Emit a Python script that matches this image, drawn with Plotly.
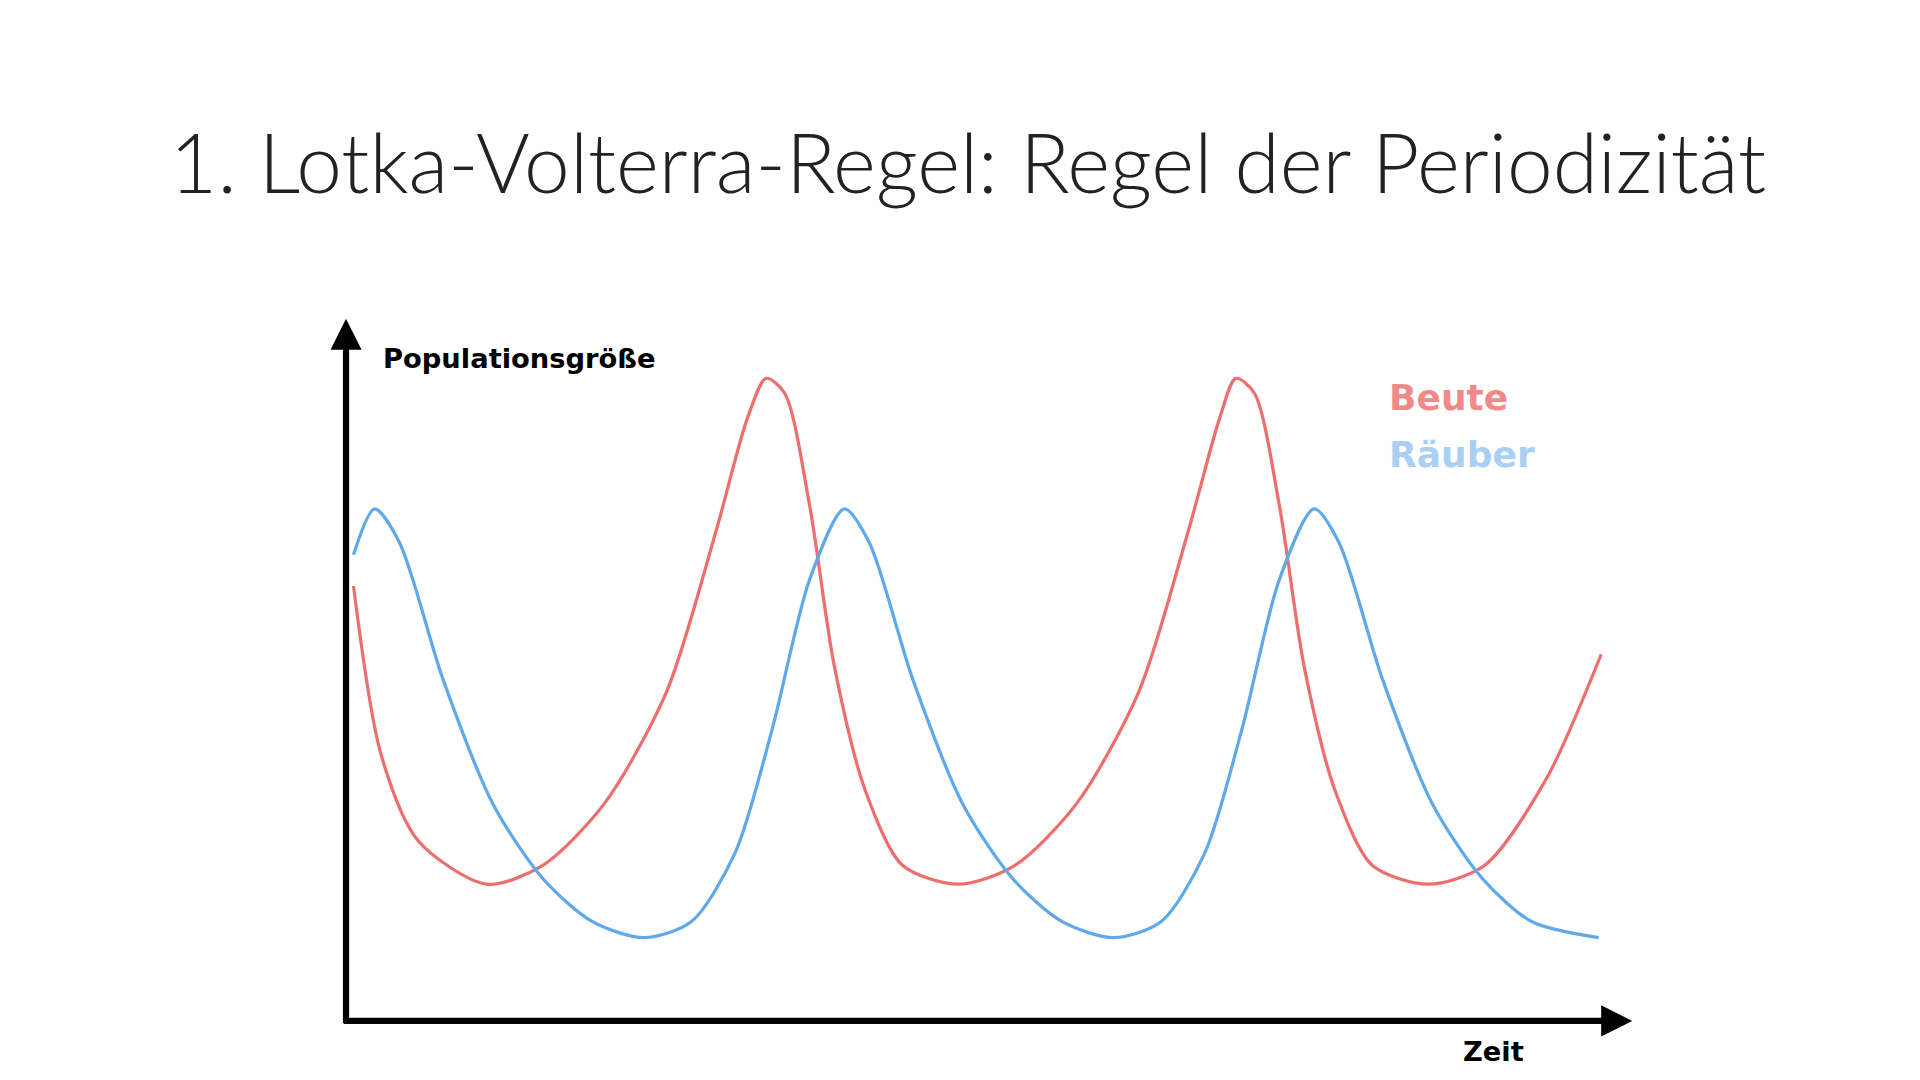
import plotly.graph_objects as go

# time axis positions and population values
beute_t = [6, 28, 58, 113, 158, 208, 258, 298, 323, 338, 353, 373, 393, 418, 448, 493,
           538, 588, 638, 678, 703, 716, 731, 751, 771, 796, 826, 871, 916, 966, 1010]
beute_n = [350, 215, 145, 110, 125, 175, 265, 395, 485, 517, 505, 415, 285, 185, 125, 110,
           125, 175, 265, 395, 485, 517, 505, 415, 285, 185, 125, 110, 125, 195, 295]

raeuber_t = [6, 23, 43, 78, 118, 158, 198, 240, 278, 313, 343, 373, 401, 421, 456, 496,
             536, 576, 618, 656, 691, 721, 751, 779, 799, 834, 874, 914, 954, 1008]
raeuber_n = [375, 412, 385, 275, 175, 115, 80, 67, 80, 135, 235, 355, 412, 385, 275, 175,
             115, 80, 67, 80, 135, 235, 355, 412, 385, 275, 175, 115, 80, 67]

S = 1920 / 1545

fig = go.Figure()
fig.add_trace(go.Scatter(x=beute_t, y=beute_n, mode="lines", line_shape="spline",
                         line=dict(color="#ee6e6e", width=2.6 * S, smoothing=0.8)))
fig.add_trace(go.Scatter(x=raeuber_t, y=raeuber_n, mode="lines", line_shape="spline",
                         line=dict(color="#5fa8ea", width=2.6 * S, smoothing=0.8)))

# axes with arrows
fig.add_annotation(x=0, y=565, ax=0, ay=-3, xref="x", yref="y", axref="x", ayref="y",
                   showarrow=True, arrowhead=2, arrowsize=1.0, arrowwidth=5 * S,
                   arrowcolor="black", text="")
fig.add_annotation(x=1035, y=0, ax=-3, ay=0, xref="x", yref="y", axref="x", ayref="y",
                   showarrow=True, arrowhead=2, arrowsize=1.0, arrowwidth=5 * S,
                   arrowcolor="black", text="")

fig.add_annotation(x=28, y=533, text="<b>Populationsgröße</b>", showarrow=False,
                   xanchor="left", font=dict(size=22 * S, color="black", family="DejaVu Sans"))
fig.add_annotation(x=923, y=-25, text="<b>Zeit</b>", showarrow=False,
                   font=dict(size=22 * S, color="black", family="DejaVu Sans"))
fig.add_annotation(x=838, y=502, text="<b>Beute</b>", showarrow=False, xanchor="left",
                   font=dict(size=29 * S, color="#f08a8a", family="DejaVu Sans"))
fig.add_annotation(x=838, y=456, text="<b>Räuber</b>", showarrow=False, xanchor="left",
                   font=dict(size=29 * S, color="#a9cff2", family="DejaVu Sans"))

fig.update_layout(
    width=1920, height=1080, showlegend=False,
    paper_bgcolor="white", plot_bgcolor="white",
    margin=dict(l=0, r=0, t=0, b=0),
    title=dict(text="1. Lotka-Volterra-Regel: Regel der Periodizität", x=0.5, y=0.855,
               xanchor="center", yanchor="middle",
               font=dict(size=66 * S, color="#222222", family="Lato", weight=300)),
    xaxis=dict(range=[-272, 1545 - 272], visible=False, fixedrange=True),
    yaxis=dict(range=[815 - 869, 815], visible=False, fixedrange=True),
)

fig.write_html("out.html")
